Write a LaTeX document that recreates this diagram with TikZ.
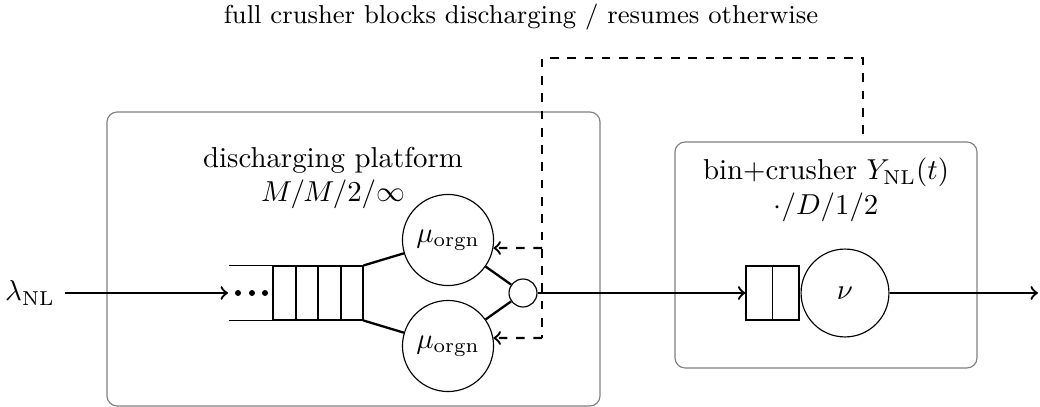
\documentclass[tikz,border=0pt]{standalone}
\usetikzlibrary{calc}
\begin{document}
\begin{tikzpicture}[x=0.347pt,y=-0.347pt,
  grpbox/.style={draw=black!50,rounded corners=3.5pt,line width=0.4pt,inner sep=0pt},
  server/.style={circle,draw,line width=0.4pt,inner sep=0pt,minimum size=31.6pt},
  joint/.style={circle,draw,line width=0.4pt,inner sep=0pt,minimum size=9.7pt},
  qbox/.style={draw,line width=0.4pt,inner sep=0pt,minimum height=18.7pt},
  flow/.style={thick,->},
  link/.style={thick},
  fb/.style={thick,dashed}]
\useasboundingbox (0,0) rectangle (1040,407);

% title
\node[font=\small] (title) at (521,17) {full crusher blocks discharging / resumes otherwise};

% group boxes
\node[grpbox,minimum width=171.1pt,minimum height=102pt] (platform) at (353.5,259) {};
\node[grpbox,minimum width=104.8pt,minimum height=78.4pt] (bin) at (826,255) {};
\node[align=center] (plabel) at (333,178) {discharging platform\\$M/M/2/\infty$};
\node[align=center] (blabel) at (826,190) {bin+crusher $Y_{\mathrm{NL}}(t)$\\$\cdot/D/1/2$};

% input
\node (lam) at (30,293) {$\lambda_{\mathrm{NL}}$};
\coordinate (qin) at (228,293);
\draw[flow] (lam.east) -- (qin);

% queue of platform
\node[qbox,minimum width=31.2pt] (queue) at (318,293) {};
\foreach \xx in {296,318,341} \draw[line width=0.4pt] (\xx,266) -- (\xx,320);
\draw[line width=0.4pt] (queue.north west) -- ++(-43,0);
\draw[line width=0.4pt] (queue.south west) -- ++(-43,0);
\foreach \xx in {238,252,265} \fill (\xx,293) circle (3);

% servers
\node[server] (s1) at (448,240) {$\mu_{\mathrm{orgn}}$};
\node[server] (s2) at (448,346) {$\mu_{\mathrm{orgn}}$};
\node[joint] (j) at (523,293) {};
\draw[link] (queue.north east) -- (s1);
\draw[link] (queue.south east) -- (s2);
\draw[link] (s1) -- (j);
\draw[link] (s2) -- (j);

% bin + crusher
\node[qbox,minimum width=18.4pt] (bq) at (772.5,293) {};
\draw[line width=0.4pt] (bq.north) -- (bq.south);
\node[server,minimum size=30.5pt] (nu) at (845,293) {$\nu$};
\draw[flow] (j) -- (bq.west);
\coordinate (out) at (1038,293);
\draw[flow] (nu) -- (out);

% feedback
\coordinate (fbend) at (863,134);
\coordinate (fbtop) at (542,58);
\coordinate (fbup) at (542,248);
\coordinate (fblow) at (542,338);
\draw[fb] (fbend) |- (fbtop) -- (fblow);
\draw[fb,->] (fbup) -- (s1.-10);
\draw[fb,->] (fblow) -- (s2.10);
\end{tikzpicture}
\end{document}
